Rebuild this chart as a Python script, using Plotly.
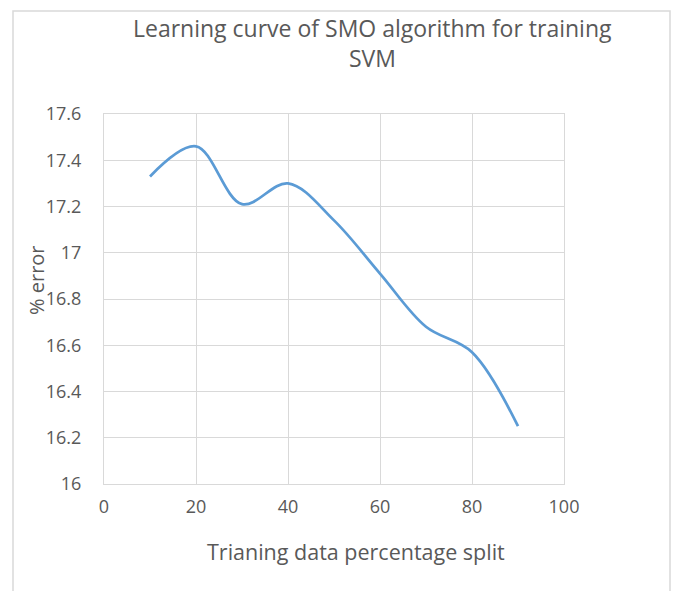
import plotly.graph_objects as go

split_pct = [10, 20, 30, 40, 50, 60, 70, 80, 90]
error_pct = [17.33, 17.46, 17.21, 17.30, 17.14, 16.91, 16.68, 16.57, 16.25]
x_ticks = [0, 20, 40, 60, 80, 100]
y_ticks = [16, 16.2, 16.4, 16.6, 16.8, 17, 17.2, 17.4, 17.6]
y_tick_text = ["16", "16.2", "16.4", "16.6", "16.8", "17", "17.2", "17.4", "17.6"]

# page body has an 8px margin; work in screenshot pixels and shift
OFF = 8
W, H = 681 - 2 * OFF, 599 - 2 * OFF
L, R, T, B = 104 - OFF, 564 - OFF, 114 - OFF, 484 - OFF
FONT = "'Open Sans', Lato, sans-serif"
TXT = "#595959"
GRID = "#D9D9D9"

def px(x):
    return (x - OFF - L) / (R - L)

def py(y):
    return (B - (y - OFF)) / (B - T)

fig = go.Figure()
fig.add_trace(go.Scatter(
    x=split_pct, y=error_pct, mode="lines",
    line=dict(color="#5B9BD5", width=2.75, shape="spline", smoothing=1.0),
    showlegend=False, hoverinfo="x+y",
))

fig.update_layout(
    width=W, height=H,
    margin=dict(l=L, r=W - R, t=T, b=H - B),
    paper_bgcolor="white", plot_bgcolor="white",
    font=dict(family=FONT, color=TXT),
    xaxis=dict(
        range=[0, 100], tickvals=x_ticks, showgrid=True, gridcolor=GRID, gridwidth=1,
        zeroline=False, showline=True, linecolor=GRID, linewidth=1, mirror=True,
        tickfont=dict(family=FONT, size=18, color=TXT), ticks="", ticklabelstandoff=6,
    ),
    yaxis=dict(
        range=[16, 17.6], tickvals=y_ticks, ticktext=y_tick_text, showgrid=True,
        gridcolor=GRID, gridwidth=1, zeroline=False, showline=True, linecolor=GRID,
        linewidth=1, mirror=True,
        tickfont=dict(family=FONT, size=18, color=TXT), ticks="", ticklabelstandoff=18,
    ),
    annotations=[
        dict(text="Learning curve of SMO algorithm for training", xref="paper", yref="paper",
             x=px(372), y=py(28), xanchor="center", yanchor="middle", showarrow=False,
             font=dict(family=FONT, size=23, color=TXT)),
        dict(text="SVM", xref="paper", yref="paper",
             x=px(372), y=py(58), xanchor="center", yanchor="middle", showarrow=False,
             font=dict(family=FONT, size=23, color=TXT)),
        dict(text="Trianing data percentage split", xref="paper", yref="paper",
             x=px(356), y=py(551), xanchor="center", yanchor="middle", showarrow=False,
             font=dict(family=FONT, size=21.5, color=TXT)),
        dict(text="% error", xref="paper", yref="paper", textangle=-90,
             x=px(36), y=py(280), xanchor="center", yanchor="middle", showarrow=False,
             font=dict(family=FONT, size=20, color=TXT)),
    ],
    shapes=[
        dict(type="rect", xref="paper", yref="paper",
             x0=px(13), x1=px(670), y0=py(610), y1=py(11),
             line=dict(color="#D9D9D9", width=1.5), fillcolor="rgba(0,0,0,0)", layer="below"),
    ],
)

fig.write_html("out.html")
